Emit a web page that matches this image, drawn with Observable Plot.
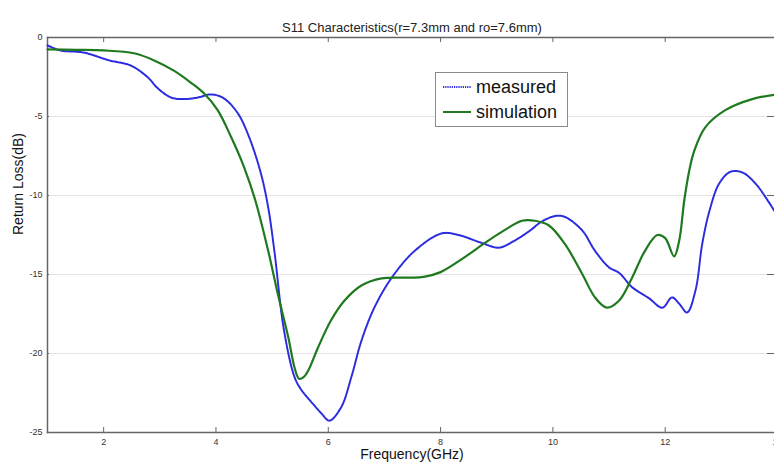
<!DOCTYPE html>
<html><head><meta charset="utf-8">
<script src="https://cdn.jsdelivr.net/npm/d3@7"></script>
<script src="https://cdn.jsdelivr.net/npm/@observablehq/plot@0.6"></script>
<style>
html,body{margin:0;padding:0;background:#fff;overflow:hidden;}
#wrap{position:relative;width:774px;height:464px;font-family:"Liberation Sans",Arial,sans-serif;}
#legend{position:absolute;left:435px;top:72px;width:133px;height:55px;border:1px solid #8a8a8a;background:#fff;box-sizing:border-box;font-size:18px;color:#111;}
#legend .row{position:absolute;left:6px;height:22px;display:flex;align-items:center;}
#legend svg{margin-right:4px;}
</style></head>
<body><div id="wrap"></div>
<script>
const titleText = "S11 Characteristics(r=7.3mm and ro=7.6mm)";
const xLabel = "Frequency(GHz)";
const yLabel = "Return Loss(dB)";
const xTicks = [2, 4, 6, 8, 10, 12, 14];
const yTicks = [-25, -20, -15, -10, -5, 0];
const seriesNames = ["measured", "simulation"];

const measuredFreq = [1.0,1.23,1.64,2.1,2.48,2.78,2.96,3.2,3.43,3.68,3.91,4.14,4.39,4.59,4.8,4.93,5.04,5.21,5.4,5.52,5.73,5.88,6.02,6.23,6.41,6.59,6.82,7.13,7.54,8.02,8.32,8.73,9.04,9.32,9.6,9.8,10.04,10.21,10.52,10.75,11.0,11.18,11.41,11.71,11.95,12.12,12.25,12.39,12.54,12.66,12.79,12.96,13.16,13.38,13.61,13.86,14.0];
const measuredDb   = [-0.5,-0.82,-0.95,-1.45,-1.77,-2.5,-3.2,-3.8,-3.9,-3.8,-3.6,-3.85,-4.8,-6.3,-8.6,-10.75,-13.5,-18.5,-21.5,-22.3,-23.2,-23.8,-24.25,-23.4,-21.5,-19.2,-17.1,-15.2,-13.5,-12.4,-12.5,-13.0,-13.3,-12.85,-12.2,-11.65,-11.3,-11.35,-12.2,-13.5,-14.55,-14.9,-15.8,-16.5,-17.1,-16.45,-16.85,-17.4,-16.0,-13.05,-10.95,-9.25,-8.5,-8.55,-9.25,-10.5,-11.3];

const simulationFreq = [1.0,1.5,2.0,2.54,2.9,3.25,3.55,3.79,4.03,4.27,4.5,4.7,4.93,5.1,5.29,5.4,5.48,5.56,5.64,5.82,6.05,6.29,6.59,6.95,7.43,7.7,8.0,8.43,8.79,9.09,9.45,9.68,9.93,10.21,10.52,10.75,10.96,11.18,11.41,11.64,11.86,12.0,12.16,12.25,12.34,12.43,12.52,12.71,13.07,13.55,14.0];
const simulationDb   = [-0.75,-0.78,-0.82,-1.0,-1.45,-2.1,-2.85,-3.55,-4.6,-6.3,-8.2,-10.3,-13.5,-16.2,-19.0,-20.9,-21.6,-21.5,-21.1,-19.6,-17.9,-16.65,-15.7,-15.25,-15.2,-15.15,-14.85,-13.9,-13.0,-12.3,-11.6,-11.6,-11.9,-13.05,-14.95,-16.45,-17.1,-16.65,-15.2,-13.5,-12.5,-12.7,-13.85,-12.85,-10.3,-8.4,-7.15,-5.7,-4.6,-3.9,-3.6];

const colors = ["#2b2be0", "#1f7a1f"];
const dash = "1.2,1";

const measured = measuredFreq.map((f, i) => ({f, db: measuredDb[i]}));
const simulation = simulationFreq.map((f, i) => ({f, db: simulationDb[i]}));

const axisColor = "#666";
const chart = Plot.plot({
  width: 774, height: 464,
  marginTop: 37, marginBottom: 32, marginLeft: 47, marginRight: 0,
  style: {fontFamily: "'Liberation Sans', Arial, sans-serif", background: "white", overflow: "hidden"},
  x: {domain: [1, 14], range: [47, 777]},
  y: {domain: [-25, 0]},
  marks: [
    Plot.gridY({ticks: [-20, -15, -10, -5], stroke: "#e4e4e4", strokeOpacity: 1}),
    Plot.gridX({ticks: xTicks, insetTop: 390, stroke: axisColor, strokeOpacity: 1}),
    Plot.gridX({ticks: xTicks, insetBottom: 390, stroke: axisColor, strokeOpacity: 1}),
    Plot.gridY({ticks: yTicks, insetRight: 725, stroke: axisColor, strokeOpacity: 1}),
    Plot.gridY({ticks: yTicks, insetLeft: 720, stroke: axisColor, strokeOpacity: 1}),
    Plot.frame({anchor: "top", stroke: axisColor, strokeWidth: 1.5}),
    Plot.frame({anchor: "bottom", stroke: axisColor, strokeWidth: 1.5}),
    Plot.frame({anchor: "left", stroke: axisColor, strokeWidth: 1.5}),
    Plot.axisX({ticks: xTicks, tickSize: 0, tickPadding: 6, fontSize: 9, color: "#333", label: null, tickFormat: d => String(d)}),
    Plot.axisY({ticks: yTicks, tickSize: 0, tickPadding: 5, fontSize: 9, color: "#333", label: null, tickFormat: d => String(d)}),
    Plot.line(measured, {x: "f", y: "db", stroke: colors[0], strokeWidth: 2, strokeDasharray: dash, curve: "catmull-rom"}),
    Plot.line(simulation, {x: "f", y: "db", stroke: colors[1], strokeWidth: 2.2, curve: "catmull-rom"}),
    Plot.text([titleText], {text: d => d, frameAnchor: "top", dx: 1, dy: -15, fontSize: 13, fill: "#222"}),
    Plot.text([xLabel], {text: d => d, frameAnchor: "bottom", dx: 1, dy: 26, fontSize: 14, fill: "#111"}),
    Plot.text([yLabel], {text: d => d, frameAnchor: "left", dx: -29, rotate: -90, fontSize: 14, fill: "#111"})
  ]
});
const wrap = document.getElementById("wrap");
wrap.appendChild(chart);

const legend = document.createElement("div");
legend.id = "legend";
seriesNames.forEach((name, i) => {
  const row = document.createElement("div");
  row.className = "row";
  row.style.top = (i === 0 ? 3 : 28) + "px";
  row.innerHTML = `<svg width="30" height="6"><line x1="1" x2="29" y1="3" y2="3" stroke="${colors[i]}" stroke-width="2" ${i === 0 ? `stroke-dasharray="${dash}"` : ''}/></svg><span>${name}</span>`;
  legend.appendChild(row);
});
wrap.appendChild(legend);
</script></body></html>
